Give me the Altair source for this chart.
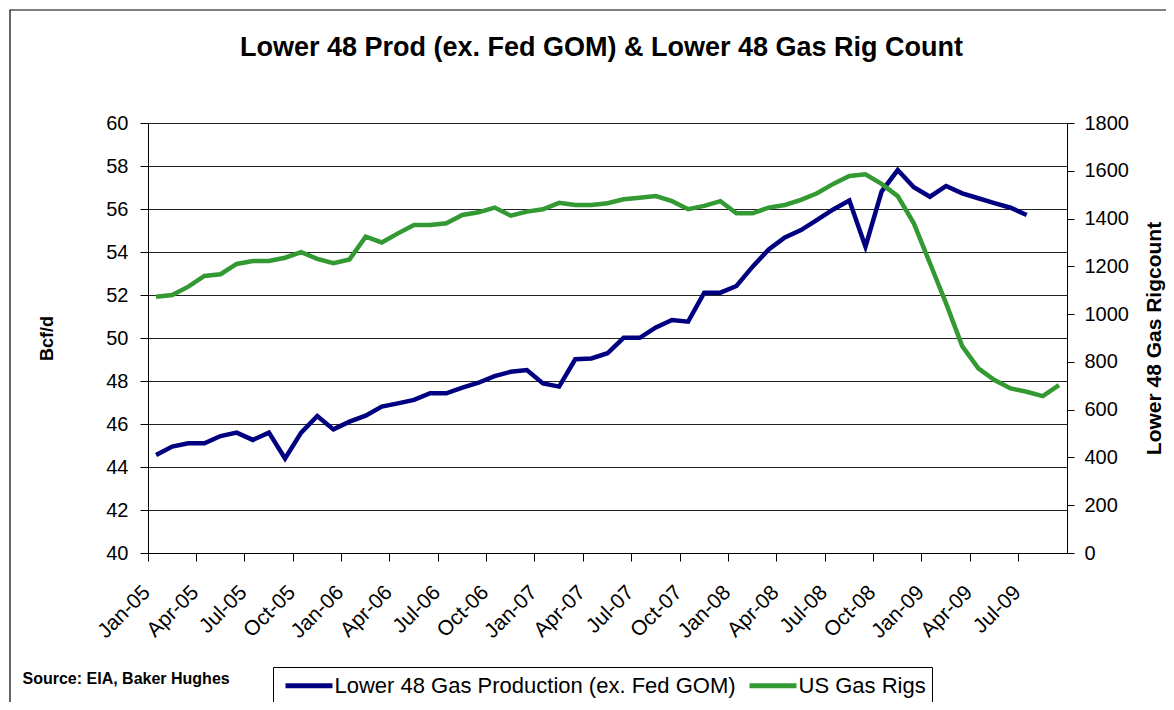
import altair as alt
import pandas as pd

months = [f"{m}-{y:02d}" for y in range(5, 10) for m in
          ["Jan", "Feb", "Mar", "Apr", "May", "Jun", "Jul", "Aug", "Sep", "Oct", "Nov", "Dec"]][:57]

production = [44.56, 44.95, 45.10, 45.10, 45.44, 45.60, 45.26, 45.60, 44.40, 45.60,
              46.37, 45.75, 46.11, 46.39, 46.81, 46.96, 47.12, 47.43, 47.43, 47.69,
              47.92, 48.23, 48.43, 48.51, 47.89, 47.74, 49.01, 49.05, 49.29, 50.01,
              50.01, 50.49, 50.84, 50.76, 52.11, 52.11, 52.42, 53.32, 54.12, 54.68,
              55.02, 55.49, 55.98, 56.39, 54.25, 56.81, 57.81, 57.01, 56.57, 57.07,
              56.73, 56.50, 56.27, 56.06, 55.72]

rigs = [1073, 1080, 1115, 1160, 1167, 1210, 1222, 1222, 1236, 1259,
        1231, 1213, 1229, 1324, 1300, 1338, 1373, 1373, 1380, 1415,
        1426, 1446, 1412, 1429, 1439, 1466, 1457, 1457, 1464, 1481,
        1487, 1494, 1473, 1439, 1453, 1473, 1422, 1422, 1446, 1457,
        1478, 1506, 1545, 1578, 1585, 1545, 1494, 1380, 1213, 1045,
        866, 773, 724, 689, 675, 657, 703]

series_names = ["Lower 48 Gas Production (ex. Fed GOM)", "US Gas Rigs"]
series_colors = ["#000080", "#339933"]

prod_df = pd.DataFrame({"month": months[:len(production)], "value": production})
rig_df = pd.DataFrame({"month": months, "value": rigs})

FONT = "Liberation Sans"
W, H = 919, 430

xscale = alt.Scale(type="band", domain=months, paddingInner=0, paddingOuter=0)
tick_vals = months[::3]

color_scale = alt.Scale(domain=series_names, range=series_colors)

xaxis = alt.Axis(values=tick_vals, bandPosition=0, labelAngle=315, labelAlign="right",
                 labelBaseline="middle", labelPadding=28, labelOffset=-9, labelFontSize=21,
                 labelFont=FONT, labelColor="black", tickSize=8, tickColor="black",
                 domainColor="black", grid=False, labelOverlap=False,
                 title="Source: EIA, Baker Hughes", titleFont=FONT, titleFontSize=16,
                 titleFontWeight="bold", titleColor="black", titleAlign="left",
                 titleAnchor="start", titleX=-126, titleY=130, titleBaseline="alphabetic")

border = alt.Chart(pd.DataFrame({"k": [0]})).mark_rect(
    fill=None, stroke="black", strokeWidth=1.2
).encode(x=alt.value(-138), x2=alt.value(1200), y=alt.value(-113), y2=alt.value(800))

prod_line = alt.Chart(prod_df).mark_line(strokeWidth=4.5).encode(
    x=alt.X("month:O", scale=xscale, axis=xaxis),
    y=alt.Y("value:Q", scale=alt.Scale(domain=[40, 60], nice=False, zero=False),
            axis=alt.Axis(values=list(range(40, 61, 2)), grid=True, gridColor="#222222",
                          gridWidth=1, tickSize=8, tickColor="black", domainColor="black",
                          labelFont=FONT, labelFontSize=20, labelColor="black", labelPadding=12,
                          title="Bcf/d", titleFont=FONT, titleFontSize=18, titleFontWeight="bold",
                          titleColor="black", titleX=-101, titleY=215, titleAngle=270,
                          titleAlign="center", titleBaseline="middle")),
    color=alt.Color("s:N", scale=color_scale, legend=alt.Legend(
        orient="none", legendX=125, legendY=544, direction="horizontal", title=None,
        strokeColor="black", padding=6, symbolType="M-2.35,0H2.35", symbolSize=400,
        symbolOffset=17.5, symbolStrokeWidth=5, labelFont=FONT, labelFontSize=22,
        labelColor="black", labelLimit=0, columnPadding=3, labelOffset=13)),
).transform_calculate(s=f"'{series_names[0]}'")

rig_line = alt.Chart(rig_df).mark_line(strokeWidth=4.5).encode(
    x=alt.X("month:O", scale=xscale, axis=xaxis),
    y=alt.Y("value:Q", scale=alt.Scale(domain=[0, 1800], nice=False),
            axis=alt.Axis(orient="right", values=list(range(0, 1801, 200)), format="d",
                          grid=False, tickSize=7, tickColor="black", domainColor="black",
                          labelFont=FONT, labelFontSize=20, labelColor="black", labelPadding=10,
                          title="Lower 48 Gas Rigcount", titleFont=FONT, titleFontSize=21,
                          titleFontWeight="bold", titleColor="black", titleX=87, titleY=215,
                          titleAngle=270, titleAlign="center", titleBaseline="middle")),
    color=alt.Color("s:N", scale=color_scale),
).transform_calculate(s=f"'{series_names[1]}'")

chart = alt.layer(border, prod_line, rig_line).resolve_scale(y="independent").properties(
    width=W, height=H,
    autosize=alt.AutoSizeParams(type="none"),
    padding={"left": 140, "top": 115, "right": 99, "bottom": 149},
    title=alt.TitleParams("Lower 48 Prod (ex. Fed GOM) & Lower 48 Gas Rig Count",
                          font=FONT, fontSize=27, fontWeight="bold", color="black",
                          anchor="middle", frame="group", offset=0, dy=53, dx=-6),
).configure_view(stroke="#888888", strokeWidth=1).configure(background="white")

chart.save("out.html", embed_options={"renderer": "svg", "actions": False})
